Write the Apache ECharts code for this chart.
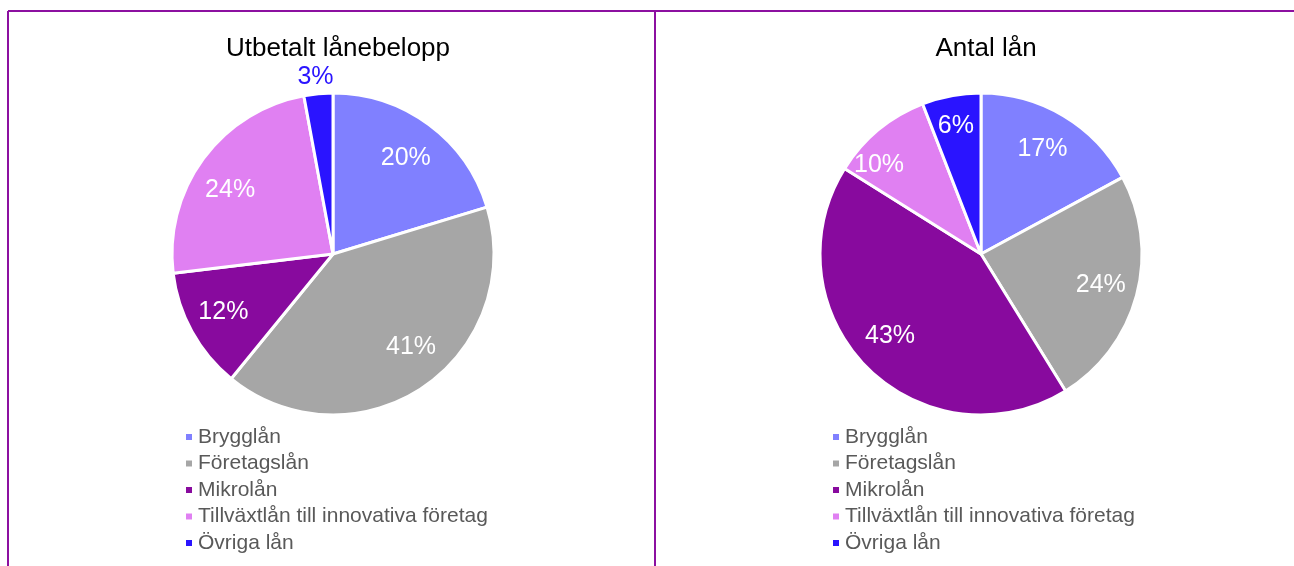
<!DOCTYPE html>
<html>
<head>
<meta charset="utf-8">
<script src="https://cdn.jsdelivr.net/npm/echarts@6/dist/echarts.min.js"></script>
<style>
  html, body { margin: 0; padding: 0; background: #fff; }
  #chart-container { width: 1294px; height: 566px; }
</style>
</head>
<body>
<div id="chart-container"></div>
<script>
let categories = ['Brygglån', 'Företagslån', 'Mikrolån', 'Tillväxtlån till innovativa företag', 'Övriga lån'];
let colors = ['#8080ff', '#a6a6a6', '#880a9e', '#e080f2', '#2a14ff'];
let beloppValues = [20.3, 40.6, 12.2, 24.0, 2.9];
let antalValues = [17.1, 24.1, 42.7, 10.2, 5.9];
let titles = ['Utbetalt lånebelopp', 'Antal lån'];

function init() {
  let R = 161;
  let centers = [[333, 254], [981, 254]];
  let frameColor = '#8c10a0';
  let font = 'Liberation Sans, Arial, sans-serif';

  // small nudges so labels sit where Excel's "best fit" put them
  let nudges = {
    belopp: [[-1, 4], [9, -10], [-1, -2], [-3, 10], [-1, 3]],
    antal: [[-2, 2], [0, -1], [-3, -5], [-15, 16], [0, 6]]
  };

  function pieSeries(center, values) {
    return {
      type: 'pie',
      center,
      radius: [0, R],
      startAngle: 90,
      label: { show: false },
      labelLine: { show: false },
      emphasis: { disabled: true },
      itemStyle: { borderColor: '#fff', borderWidth: 3 },
      data: categories.map((name, i) => ({
        name,
        value: values[i],
        itemStyle: { color: colors[i] }
      }))
    };
  }

  // transparent ring just to place the percent labels at a chosen radius
  function labelSeries(center, values, r0, r1, shown, color, nudge) {
    return {
      type: 'pie',
      center,
      radius: [r0, r1],
      startAngle: 90,
      silent: true,
      emphasis: { disabled: true },
      labelLine: { show: false },
      itemStyle: { color: 'transparent', borderWidth: 0 },
      label: {
        position: 'inside',
        color,
        fontFamily: font,
        fontSize: 25,
        formatter: (p) => Math.round(p.percent) + '%'
      },
      data: categories.map((name, i) => ({
        name,
        value: values[i],
        label: { show: shown.includes(i), offset: nudge[i] }
      }))
    };
  }

  function legend(left) {
    return {
      orient: 'vertical',
      left,
      top: 426.5,
      padding: 0,
      data: categories,
      icon: 'rect',
      itemWidth: 8,
      itemHeight: 8,
      itemGap: 5.5,
      selectedMode: false,
      textStyle: {
        color: '#595959',
        fontFamily: font,
        fontSize: 21,
        lineHeight: 21
      }
    };
  }

  let series = [
    pieSeries(centers[0], beloppValues),
    pieSeries(centers[1], antalValues),
    labelSeries(centers[0], beloppValues, 81, R, [0, 1, 2, 3], '#fff', nudges.belopp),
    labelSeries(centers[0], beloppValues, R, 195, [4], '#2a14ff', nudges.belopp),
    labelSeries(centers[1], antalValues, 81, R, [0, 1, 2], '#fff', nudges.antal),
    labelSeries(centers[1], antalValues, 106, R, [3, 4], '#fff', nudges.antal)
  ];

  let option = {
    animation: false,
    title: titles.map((text, i) => ({
      text,
      left: centers[i][0],
      top: 31,
      textAlign: 'center',
      textStyle: {
        color: '#000',
        fontWeight: 'normal',
        fontFamily: font,
        fontSize: 26
      }
    })),
    legend: [legend(184), legend(831)],
    graphic: [
      { type: 'line', shape: { x1: 8, y1: 11, x2: 1294, y2: 11 }, style: { stroke: frameColor, lineWidth: 2 } },
      { type: 'line', shape: { x1: 8, y1: 11, x2: 8, y2: 566 }, style: { stroke: frameColor, lineWidth: 2 } },
      { type: 'line', shape: { x1: 655, y1: 11, x2: 655, y2: 566 }, style: { stroke: frameColor, lineWidth: 2 } }
    ],
    series
  };

  let myChart = echarts.init(document.getElementById('chart-container'));
  myChart.setOption(option);
}
init();
</script>
</body>
</html>
